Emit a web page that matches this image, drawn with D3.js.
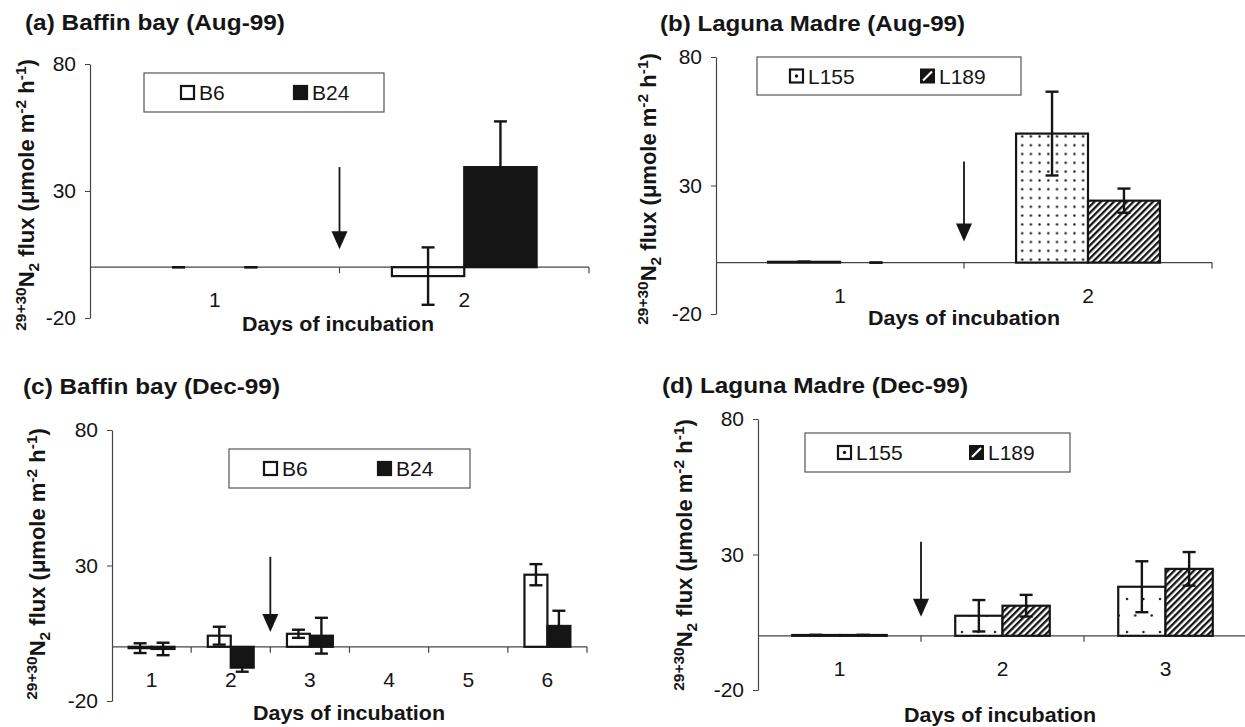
<!DOCTYPE html>
<html>
<head>
<meta charset="utf-8">
<script src="https://cdn.jsdelivr.net/npm/d3@7"></script>
<style>
  body { margin: 0; background: #fff; }
  svg { display: block; font-family: "Liberation Sans", Arial, Helvetica, sans-serif; }
</style>
</head>
<body>
<svg id="chart" width="1245" height="727"></svg>
<script>
// ---- data (umole m-2 h-1) ----
const daysAug = ["1", "2"];
const daysBaffinDec = ["1", "2", "3", "4", "5", "6"];
const daysLagunaDec = ["1", "2", "3"];
const yTicks = [-20, 30, 80];

// (a) Baffin bay Aug-99
const baffinAugB6 = [0, -3.5];
const baffinAugB6Err = [0, 11.3];
const baffinAugB24 = [0, 39.4];
const baffinAugB24Err = [0, 18];

// (b) Laguna Madre Aug-99
const lagunaAugL155 = [0.3, 50.2];
const lagunaAugL155Err = [0, 16.3];
const lagunaAugL189 = [0, 24.1];
const lagunaAugL189Err = [0, 4.7];

// (c) Baffin bay Dec-99 (days 4 and 5 not sampled)
const baffinDecB6 = [-0.5, 4.1, 4.8, null, null, 26.6];
const baffinDecB6Err = [1.8, 3.3, 1.5, null, null, 3.9];
const baffinDecB24 = [-0.8, -7.7, 4.1, null, null, 7.7];
const baffinDecB24Err = [2.3, 1.5, 6.6, null, null, 5.6];

// (d) Laguna Madre Dec-99
const lagunaDecL155 = [0.3, 7.4, 18.1];
const lagunaDecL155Err = [0, 5.8, 9.4];
const lagunaDecL189 = [0.3, 11.1, 24.7];
const lagunaDecL189Err = [0, 4.0, 6.2];

const svg = d3.select("#chart");
const ink = "#151515";

// patterns
const defs = svg.append("defs");
function dotPattern(id, w, h, pts) {
  const p = defs.append("pattern").attr("id", id)
    .attr("patternUnits", "userSpaceOnUse").attr("width", w).attr("height", h);
  p.append("rect").attr("width", w).attr("height", h).attr("fill", "#fff");
  pts.forEach(d => p.append("circle").attr("cx", d[0]).attr("cy", d[1]).attr("r", 1.2).attr("fill", ink));
}
dotPattern("dotsFine", 8.7, 8.8, [[4.3, 4.4]]);
dotPattern("dotsCoarse", 16.5, 33, [[5, 5], [13.25, 21.5]]);

const hatch = defs.append("pattern").attr("id", "hatch")
  .attr("patternUnits", "userSpaceOnUse").attr("width", 4.6).attr("height", 4.6)
  .attr("patternTransform", "rotate(45)");
hatch.append("rect").attr("width", 4.6).attr("height", 4.6).attr("fill", "#fff");
hatch.append("rect").attr("width", 2.3).attr("height", 4.6).attr("fill", ink);

function seriesB(b6, b6e, b24, b24e) {
  return [
    { name: "B6", kind: "open", values: b6, err: b6e },
    { name: "B24", kind: "solid", values: b24, err: b24e }
  ];
}
function seriesL(l155, l155e, l189, l189e) {
  return [
    { name: "L155", kind: "dots", values: l155, err: l155e },
    { name: "L189", kind: "hatch", values: l189, err: l189e }
  ];
}

const panels = [
  { title: "(a) Baffin bay (Aug-99)", tx: 25, ty: 30, tw: 260,
    days: daysAug, series: seriesB(baffinAugB6, baffinAugB6Err, baffinAugB24, baffinAugB24Err),
    x0: 90, x1: 589, yTop: 64, yBot: 318,
    legend: [144, 73, 240, 39], legendOff: [36, 149],
    xlab: [338, 331], ylab: [34, 195], arrow: { after: 1, from: 39.4, to: 7.1 } },
  { title: "(b) Laguna Madre (Aug-99)", tx: 660, ty: 31, tw: 305,
    days: daysAug, series: seriesL(lagunaAugL155, lagunaAugL155Err, lagunaAugL189, lagunaAugL189Err),
    dots: "dotsFine",
    x0: 716, x1: 1212, yTop: 57, yBot: 314,
    legend: [757, 57, 264, 38], legendOff: [32, 163],
    xlab: [964, 325], ylab: [656, 189], arrow: { after: 1, from: 39.3, to: 8.2 } },
  { title: "(c) Baffin bay (Dec-99)", tx: 23, ty: 394, tw: 257,
    days: daysBaffinDec, series: seriesB(baffinDecB6, baffinDecB6Err, baffinDecB24, baffinDecB24Err),
    x0: 112, x1: 587, yTop: 430, yBot: 701,
    legend: [229, 449, 241, 39], legendOff: [34, 148],
    xlab: [349, 720], ylab: [45, 564], arrow: { after: 2, from: 33.2, to: 5.5 } },
  { title: "(d) Laguna Madre (Dec-99)", tx: 662, ty: 393, tw: 306,
    days: daysLagunaDec, series: seriesL(lagunaDecL155, lagunaDecL155Err, lagunaDecL189, lagunaDecL189Err),
    dots: "dotsCoarse",
    x0: 758, x1: 1247, yTop: 419, yBot: 690,
    legend: [805, 433, 265, 39], legendOff: [32, 164],
    xlab: [1000, 722], ylab: [692, 555], arrow: { after: 1, from: 34.7, to: 7.0 } }
];

function fillFor(s, p) {
  if (s.kind === "solid") return ink;
  if (s.kind === "dots") return `url(#${p.dots})`;
  if (s.kind === "hatch") return "url(#hatch)";
  return "#fff";
}

function drawPanel(p) {
  const g = svg.append("g");
  const y = d3.scaleLinear().domain([-20, 80]).range([p.yBot, p.yTop]);
  const x = d3.scaleBand().domain(p.days).range([p.x0, p.x1]);
  const bw = x.bandwidth();
  const groupW = bw * 0.58;
  const xs = d3.scaleBand().domain(p.series.map(s => s.name)).range([-groupW / 2, groupW / 2]);
  const y0 = y(0);

  // title
  g.append("text").attr("x", p.tx).attr("y", p.ty)
    .attr("font-size", 22).attr("font-weight", "bold").attr("fill", ink)
    .attr("textLength", p.tw).attr("lengthAdjust", "spacingAndGlyphs")
    .text(p.title);

  // y axis
  const ya = g.append("g").attr("transform", `translate(${p.x0},0)`)
    .call(d3.axisLeft(y).tickValues(yTicks).tickFormat(d => String(d))
      .tickSize(5).tickSizeOuter(0).tickPadding(9));
  ya.attr("font-family", null).attr("font-size", null);
  ya.select(".domain").attr("stroke", "#444").attr("stroke-width", 1.2);
  ya.selectAll(".tick line").attr("stroke", "#444");
  ya.selectAll(".tick text").attr("font-size", 21).attr("fill", ink);

  // x axis along zero
  g.append("line").attr("x1", p.x0).attr("x2", p.x1).attr("y1", y0).attr("y2", y0)
    .attr("stroke", "#444").attr("stroke-width", 1.2);
  const bounds = p.days.slice(1).map(d => x(d)).concat([p.x1]);
  g.selectAll("line.xt").data(bounds).join("line").attr("class", "xt")
    .attr("x1", d => d).attr("x2", d => d).attr("y1", y0).attr("y2", y0 + 6)
    .attr("stroke", "#444").attr("stroke-width", 1.2);
  g.selectAll("text.cat").data(p.days).join("text").attr("class", "cat")
    .attr("x", d => x(d) + bw / 2).attr("y", y0 + 40)
    .attr("text-anchor", "middle").attr("font-size", 21).attr("fill", ink)
    .text(d => d);

  // bars
  p.series.forEach(s => {
    const rows = p.days.map((d, i) => ({ day: d, v: s.values[i], e: s.err[i] }))
      .filter(r => r.v !== null);
    g.selectAll(null).data(rows.filter(r => r.v !== 0)).join("rect")
      .attr("x", r => x(r.day) + bw / 2 + xs(s.name))
      .attr("width", xs.bandwidth())
      .attr("y", r => Math.min(y(r.v), y0))
      .attr("height", r => Math.abs(y(r.v) - y0))
      .attr("fill", fillFor(s, p))
      .attr("stroke", ink).attr("stroke-width", 2.2);
    // error bars
    const cx = r => x(r.day) + bw / 2 + xs(s.name) + xs.bandwidth() / 2;
    const eb = g.selectAll(null).data(rows).join("g")
      .attr("stroke", ink).attr("stroke-width", 2.4);
    eb.append("line").attr("x1", cx).attr("x2", cx)
      .attr("y1", r => y(r.v + r.e)).attr("y2", r => y(r.v - r.e));
    eb.append("line").attr("x1", r => cx(r) - 6.5).attr("x2", r => cx(r) + 6.5)
      .attr("y1", r => y(r.v + r.e)).attr("y2", r => y(r.v + r.e));
    eb.append("line").attr("x1", r => cx(r) - 6.5).attr("x2", r => cx(r) + 6.5)
      .attr("y1", r => y(r.v - r.e)).attr("y2", r => y(r.v - r.e));
  });

  // arrow marking the treatment
  const ax = x(p.days[p.arrow.after]);
  const tip = y(p.arrow.to);
  g.append("line").attr("x1", ax).attr("x2", ax)
    .attr("y1", y(p.arrow.from)).attr("y2", tip - 16)
    .attr("stroke", ink).attr("stroke-width", 1.8);
  g.append("path").attr("d", `M${ax - 8},${tip - 18}L${ax + 8},${tip - 18}L${ax},${tip}Z`)
    .attr("fill", ink);

  // legend
  const [lx, ly, lw, lh] = p.legend;
  g.append("rect").attr("x", lx).attr("y", ly).attr("width", lw).attr("height", lh)
    .attr("fill", "#fff").attr("stroke", "#555").attr("stroke-width", 1.2);
  const base = ly + lh / 2 + 7.5;
  p.series.forEach((s, i) => {
    const sx = lx + p.legendOff[i];
    const sy = base - 15;
    if (s.kind === "hatch") {
      g.append("rect").attr("x", sx).attr("y", sy).attr("width", 15).attr("height", 15).attr("fill", ink);
      g.append("line").attr("x1", sx + 3).attr("y1", sy + 12).attr("x2", sx + 12).attr("y2", sy + 3)
        .attr("stroke", "#fff").attr("stroke-width", 2.2);
    } else {
      g.append("rect").attr("x", sx + 1).attr("y", sy + 1).attr("width", 13).attr("height", 13)
        .attr("fill", s.kind === "solid" ? ink : "#fff").attr("stroke", ink).attr("stroke-width", 2.2);
      if (s.kind === "dots") {
        g.append("circle").attr("cx", sx + 7.5).attr("cy", sy + 7.5).attr("r", 1.7).attr("fill", ink);
      }
    }
    g.append("text").attr("x", sx + 19).attr("y", base)
      .attr("font-size", 21).attr("fill", ink).text(s.name);
  });

  // axis titles
  g.append("text").attr("x", p.xlab[0]).attr("y", p.xlab[1])
    .attr("text-anchor", "middle").attr("font-size", 20.5).attr("font-weight", "bold")
    .attr("fill", ink).attr("textLength", 192).attr("lengthAdjust", "spacingAndGlyphs")
    .text("Days of incubation");

  const yl = g.append("text")
    .attr("transform", `translate(${p.ylab[0]},${p.ylab[1]}) rotate(-90)`)
    .attr("text-anchor", "middle").attr("font-size", 22).attr("font-weight", "bold").attr("fill", ink);
  const parts = [
    ["29+30", 15.5, -8], ["N", null, 8], ["2", 15.5, 5], [" flux (\u03bcmole m", null, -5],
    ["-2", 15.5, -8], [" h", null, 8], ["-1", 15.5, -8], [")", null, 8]
  ];
  parts.forEach(([t, fs, dy]) => {
    const ts = yl.append("tspan").attr("dy", dy).text(t);
    if (fs) ts.attr("font-size", fs);
  });
}

panels.forEach(drawPanel);
</script>
</body>
</html>
